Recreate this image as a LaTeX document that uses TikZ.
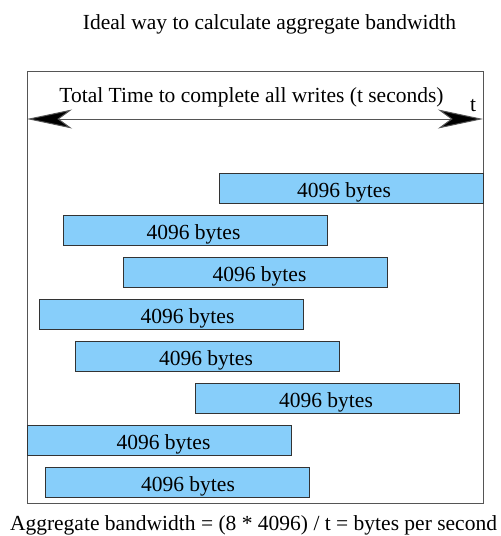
\documentclass[tikz,border=0pt]{standalone}
\usepackage{fontspec}
\setmainfont{Liberation Serif}
\usetikzlibrary{arrows.meta}
\definecolor{barblue}{HTML}{87CEFA}
\definecolor{frameline}{HTML}{555555}
\tikzset{
  bigfont/.style={font=\fontsize{21.5}{25}\selectfont, anchor=base, inner sep=0pt},
  wbar/.style={draw=black!80, fill=barblue, line width=0.8pt, anchor=north west,
    minimum width=264pt, minimum height=30pt, inner sep=0pt},
  bigtip/.tip={Stealth[length=45pt, width=19pt, inset=13pt, fill=black]}
}
\begin{document}
\begin{tikzpicture}[x=1pt, y=-1pt]
  \useasboundingbox (0,0) rectangle (501,536);
  \node[bigfont] (title) at (269.5,29) {Ideal way to calculate aggregate bandwidth};
  \draw[frameline, line width=0.9pt] (27,71) rectangle (483,503);
  \coordinate (tstart) at (27,119);
  \coordinate (tend) at (483,119);
  \draw[frameline, line width=1pt, bigtip-bigtip] (tstart) -- (tend);
  \node[bigfont] (total) at (251.5,102) {Total Time to complete all writes (t seconds)};
  \node[bigfont] (tlabel) at (473,111) {t};
  % the eight writes
  \node[wbar] (w1) at (219,173) {};
  \node[wbar] (w2) at (63,215) {};
  \node[wbar] (w3) at (123,257) {};
  \node[wbar] (w4) at (39,299) {};
  \node[wbar] (w5) at (75,341) {};
  \node[wbar] (w6) at (195,383) {};
  \node[wbar] (w7) at (27,425) {};
  \node[wbar] (w8) at (45,467) {};
  \node[bigfont] (b1) at (344,197) {4096 bytes};
  \node[bigfont] (b2) at (193.5,239) {4096 bytes};
  \node[bigfont] (b3) at (259.5,281) {4096 bytes};
  \node[bigfont] (b4) at (187.5,323) {4096 bytes};
  \node[bigfont] (b5) at (206,365) {4096 bytes};
  \node[bigfont] (b6) at (326,407) {4096 bytes};
  \node[bigfont] (b7) at (163.5,449) {4096 bytes};
  \node[bigfont] (b8) at (188,491) {4096 bytes};
  \node[bigfont] (formula) at (253.5,530.5) {Aggregate bandwidth = (8 * 4096) / t = bytes per second};
\end{tikzpicture}
\end{document}
